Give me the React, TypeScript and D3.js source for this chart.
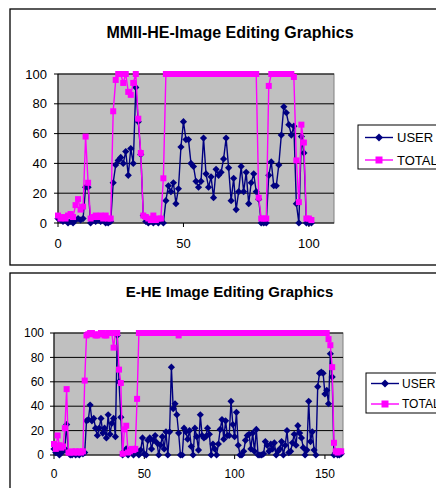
import React from "react";
import * as d3 from "d3";

// ---- MMII-HE series (one sample per index) ----
const mmiiUser = [
  3, 2, 1, 2, 0, 1, 0, 2, 3, 2, 3, 24, 24, 0, 2, 1, 2, 1, 2, 0, 0, 1,
  27, 39, 42, 44, 40, 48, 32, 50, 40, 91, 68, 46, 5,
  1, 0, 1, 0, 1, 0, 2, 0,
  15, 25, 21, 27, 13, 23, 51, 68, 56, 56, 40, 38, 28, 24, 28, 57, 33, 24, 31, 17,
  36, 32, 34, 43, 57, 37, 15, 30, 9, 21, 38, 21, 34, 13, 27, 33, 21, 16, 0,
  0, 0, 32, 41, 25, 25, 39, 59, 78, 74, 66, 59, 65, 13, 0, 58, 47, 0, 0, 0,
];
const mmiiTotal = [
  5, 3, 4, 3, 5, 6, 4, 12, 16, 9, 11, 58, 27, 3, 4, 5, 4, 5, 3, 5, 3, 3,
  75, 96, 100, 100, 94, 100, 88, 86, 94, 100, 70, 47, 5,
  4, 3, 2, 5, 2, 3, 3, 30,
  100, 100, 100, 100, 100, 100, 100, 100, 100, 100,
  100, 100, 100, 100, 100, 100, 100, 100, 100, 100,
  100, 100, 100, 100, 100, 100, 100, 100, 100, 100,
  100, 100, 100, 100, 100, 100, 100,
  17, 3, 3, 3, 92, 100, 100, 100, 100, 100, 100, 100, 100, 100,
  98, 42, 14, 66, 54, 3, 3, 2,
];

// ---- E-HE series ----
const eheUser = [
  5, 2, 3, 0, 2, 3, 5, 25, 2, 0, 0, 2, 0, 1, 0, 2, 1, 2,
  28, 29, 41, 28, 30, 22, 16, 22, 30, 18, 22, 14, 33, 17, 26, 30, 15, 98, 60, 31,
  0, 3, 5, 0, 2, 2, 0, 5, 2, 0, 4, 14, 1, 0, 12, 14, 5, 12, 16, 10, 0, 8,
  15, 5, 19, 0, 19, 72, 38, 42, 33, 18, 0, 0, 22, 19, 13, 20, 7, 0, 22, 15,
  4, 33, 16, 14, 15, 22, 17, 0, 9, 5, 0, 9, 21, 29, 13, 28, 16, 16, 44, 25,
  15, 35,
  8, 0, 0, 3, 12, 16, 17, 5, 18, 3, 21, 0, 0, 0, 1, 11, 8, 3, 9, 5,
  10, 0, 3, 5, 11, 0, 8, 20, 2, 3, 10, 17, 8, 24, 18, 14, 6, 0, 4, 44,
  11, 19, 4, 0, 56, 67, 68, 67, 50, 53, 42, 83, 64, 0, 2, 0, 0, 1,
];
const eheTotal = [
  9, 5, 16, 8, 6, 7, 22, 54, 2, 2, 3, 2, 3, 2, 3, 2, 3,
  61, 98, 99, 100, 100, 99, 98, 98, 99, 100, 100, 98, 98, 100, 100, 100, 88, 100, 100, 70, 59,
  1, 21, 24, 2, 3, 5, 4, 5, 46,
  100, 100, 100, 100, 100, 100, 100, 100, 100, 100,
  100, 100, 100, 100, 100, 100, 100, 100, 100, 100,
  100, 100, 98,
  100, 100, 100, 100, 100, 100, 100, 100, 100, 100,
  100, 100, 100, 100, 100, 100, 100, 100, 100, 100,
  100, 100, 100, 100, 100, 100, 100, 100, 100, 100,
  100, 100, 100, 100, 100, 100, 100, 100, 100, 100,
  100, 100, 100, 100, 100, 100, 100, 100, 100, 100,
  100, 100, 100, 100, 100, 100, 100, 100, 100, 100,
  100, 100, 100, 100, 100, 100, 100, 100, 100, 100,
  100, 100, 100, 100, 100, 100, 100, 100, 100, 100,
  100, 100,
  95, 90, 72, 10, 3, 2, 3, 3,
];

const yTicks = [0, 20, 40, 60, 80, 100];
const mmiiXTicks = [0, 50, 100];
const eheXTicks = [0, 50, 100, 150];
const seriesNames = ["USER", "TOTAL"];

const FONT = "'Liberation Sans', Arial, Helvetica, sans-serif";
const USER_COLOR = "#000080";
const TOTAL_COLOR = "#FF00FF";

type Cfg = {
  title: string;
  titleSize: number;
  labelSize: number;
  legendSize: number;
  user: number[];
  total: number[];
  xMax: number;
  xTicks: number[];
  frame: { x: number; y: number; w: number; h: number };
  plot: { left: number; right: number; top: number; bottom: number };
  titleX: number;
  titleY: number;
  legend: { x: number; y: number; w: number; h: number; rows: number[]; markX: number; textX: number };
  yLabelX: number;
  xLabelY: number;
};

const diamond = (r: number) => `M0,${-r}L${r},0L0,${r}L${-r},0Z`;

function Chart({ cfg }: { cfg: Cfg }) {
  const { plot } = cfg;
  const x = d3.scaleLinear().domain([0, cfg.xMax]).range([plot.left, plot.right]);
  const y = d3.scaleLinear().domain([0, 100]).range([plot.bottom, plot.top]);
  const line = d3
    .line<number>()
    .x((_, i) => x(i))
    .y((d) => y(d));

  return (
    <g>
      <rect
        x={cfg.frame.x}
        y={cfg.frame.y}
        width={cfg.frame.w}
        height={cfg.frame.h}
        fill="#fff"
        stroke="#000"
        strokeWidth={1.3}
      />
      <text
        x={cfg.titleX}
        y={cfg.titleY}
        textAnchor="middle"
        fontFamily={FONT}
        fontWeight="bold"
        fontSize={cfg.titleSize}
        fill="#000"
      >
        {cfg.title}
      </text>
      <rect
        x={plot.left}
        y={plot.top}
        width={plot.right - plot.left}
        height={plot.bottom - plot.top}
        fill="#C0C0C0"
        stroke="#808080"
        strokeWidth={1}
      />
      {yTicks.map((t) => (
        <g key={"y" + t}>
          <line x1={plot.left} x2={plot.right} y1={y(t)} y2={y(t)} stroke="#000" strokeWidth={1} />
          <line x1={plot.left - 4} x2={plot.left} y1={y(t)} y2={y(t)} stroke="#000" strokeWidth={1} />
          <text
            x={cfg.yLabelX}
            y={y(t) + cfg.labelSize * 0.35}
            textAnchor="end"
            fontFamily={FONT}
            fontSize={cfg.labelSize}
            fill="#000"
          >
            {t}
          </text>
        </g>
      ))}
      <line x1={plot.left} x2={plot.left} y1={plot.top} y2={plot.bottom} stroke="#000" strokeWidth={1} />
      {cfg.xTicks.map((t) => (
        <g key={"x" + t}>
          <line x1={x(t)} x2={x(t)} y1={plot.bottom} y2={plot.bottom + 4} stroke="#000" strokeWidth={1} />
          <text
            x={x(t)}
            y={cfg.xLabelY}
            textAnchor="middle"
            fontFamily={FONT}
            fontSize={cfg.labelSize}
            fill="#000"
          >
            {t}
          </text>
        </g>
      ))}
      <path d={line(cfg.user) ?? ""} fill="none" stroke={USER_COLOR} strokeWidth={1.4} />
      {cfg.user.map((d, i) => (
        <path key={"u" + i} d={diamond(3.6)} transform={`translate(${x(i)},${y(d)})`} fill={USER_COLOR} />
      ))}
      <path d={line(cfg.total) ?? ""} fill="none" stroke={TOTAL_COLOR} strokeWidth={1.4} />
      {cfg.total.map((d, i) => (
        <rect key={"t" + i} x={x(i) - 3} y={y(d) - 3} width={6} height={6} fill={TOTAL_COLOR} />
      ))}
      <rect
        x={cfg.legend.x}
        y={cfg.legend.y}
        width={cfg.legend.w}
        height={cfg.legend.h}
        fill="#fff"
        stroke="#000"
        strokeWidth={1}
      />
      {seriesNames.map((name, k) => {
        const ry = cfg.legend.rows[k];
        const color = k === 0 ? USER_COLOR : TOTAL_COLOR;
        return (
          <g key={name}>
            <line
              x1={cfg.legend.markX - 14}
              x2={cfg.legend.markX + 14}
              y1={ry}
              y2={ry}
              stroke={color}
              strokeWidth={1.4}
            />
            {k === 0 ? (
              <path d={diamond(4)} transform={`translate(${cfg.legend.markX},${ry})`} fill={color} />
            ) : (
              <rect x={cfg.legend.markX - 3.5} y={ry - 3.5} width={7} height={7} fill={color} />
            )}
            <text
              x={cfg.legend.textX}
              y={ry + cfg.legendSize * 0.35}
              fontFamily={FONT}
              fontSize={cfg.legendSize}
              fill="#000"
            >
              {name}
            </text>
          </g>
        );
      })}
    </g>
  );
}

const charts: Cfg[] = [
  {
    title: "MMII-HE-Image Editing Graphics",
    titleSize: 16,
    labelSize: 13,
    legendSize: 13,
    user: mmiiUser,
    total: mmiiTotal,
    xMax: 110,
    xTicks: mmiiXTicks,
    frame: { x: 10, y: 9, w: 440, h: 256 },
    plot: { left: 58, right: 334, top: 74, bottom: 223 },
    titleX: 230,
    titleY: 37.5,
    legend: { x: 358, y: 125, w: 90, h: 44, rows: [137.5, 160], markX: 379, textX: 397 },
    yLabelX: 47,
    xLabelY: 248,
  },
  {
    title: "E-HE Image Editing Graphics",
    titleSize: 15,
    labelSize: 12,
    legendSize: 12,
    user: eheUser,
    total: eheTotal,
    xMax: 160,
    xTicks: eheXTicks,
    frame: { x: 10, y: 273, w: 440, h: 230 },
    plot: { left: 54, right: 343, top: 333, bottom: 455 },
    titleX: 229.5,
    titleY: 297,
    legend: { x: 366, y: 373, w: 90, h: 40, rows: [383.5, 404], markX: 385, textX: 402 },
    yLabelX: 44,
    xLabelY: 478,
  },
];

export default function App() {
  return (
    <svg
      width={436}
      height={488}
      viewBox="0 0 436 488"
      style={{ position: "absolute", left: 0, top: 0, background: "#fff" }}
    >
      {charts.map((c) => (
        <Chart key={c.title} cfg={c} />
      ))}
    </svg>
  );
}
